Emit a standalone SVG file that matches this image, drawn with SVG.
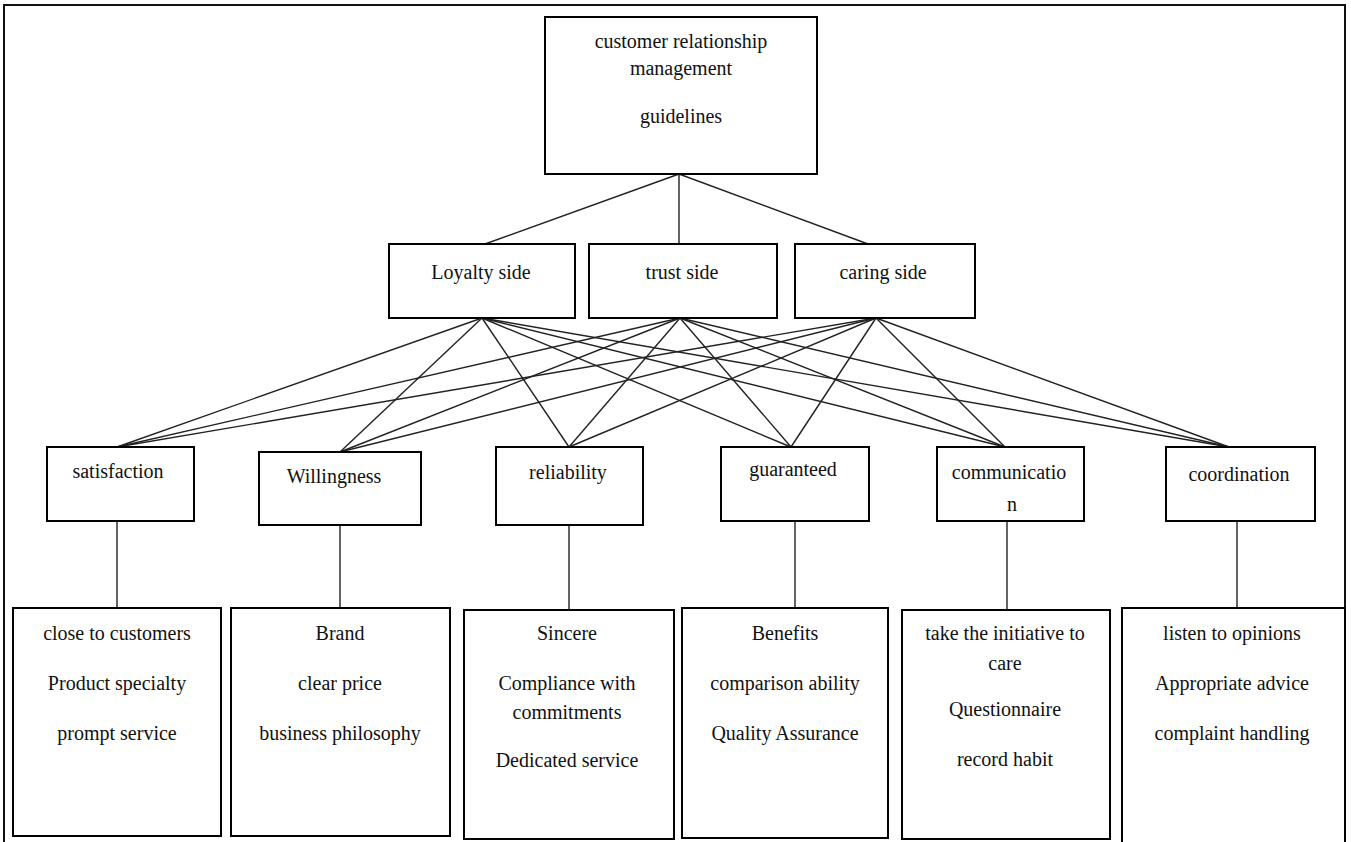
<svg xmlns="http://www.w3.org/2000/svg" width="1351" height="842" viewBox="0 0 1351 842">
<style>
.box{fill:#fff;stroke:#000;stroke-width:2}
.frame{fill:none;stroke:#111;stroke-width:2}
.t{font-family:"Liberation Serif","Times New Roman",serif;font-size:20px;fill:#111;text-anchor:middle}
.c{stroke:#222;stroke-width:1.4;fill:none}
</style>
<rect class="frame" x="4" y="5" width="1341" height="850"/>
<g id="connectors">
<line class="c" x1="679" y1="174" x2="485" y2="244"/>
<line class="c" x1="679" y1="174" x2="679" y2="244"/>
<line class="c" x1="679" y1="174" x2="868" y2="244"/>
<line class="c" x1="482" y1="318" x2="117" y2="447"/>
<line class="c" x1="482" y1="318" x2="340" y2="452"/>
<line class="c" x1="482" y1="318" x2="569" y2="447"/>
<line class="c" x1="482" y1="318" x2="791" y2="447"/>
<line class="c" x1="482" y1="318" x2="1005" y2="447"/>
<line class="c" x1="482" y1="318" x2="1229" y2="447"/>
<line class="c" x1="680" y1="318" x2="117" y2="447"/>
<line class="c" x1="680" y1="318" x2="340" y2="452"/>
<line class="c" x1="680" y1="318" x2="569" y2="447"/>
<line class="c" x1="680" y1="318" x2="791" y2="447"/>
<line class="c" x1="680" y1="318" x2="1005" y2="447"/>
<line class="c" x1="680" y1="318" x2="1229" y2="447"/>
<line class="c" x1="876" y1="318" x2="117" y2="447"/>
<line class="c" x1="876" y1="318" x2="340" y2="452"/>
<line class="c" x1="876" y1="318" x2="569" y2="447"/>
<line class="c" x1="876" y1="318" x2="791" y2="447"/>
<line class="c" x1="876" y1="318" x2="1005" y2="447"/>
<line class="c" x1="876" y1="318" x2="1229" y2="447"/>
<line class="c" x1="117" y1="521" x2="117" y2="608"/>
<line class="c" x1="340" y1="525" x2="340" y2="608"/>
<line class="c" x1="569" y1="525" x2="569" y2="610"/>
<line class="c" x1="795" y1="521" x2="795" y2="608"/>
<line class="c" x1="1007" y1="521" x2="1007" y2="610"/>
<line class="c" x1="1237" y1="521" x2="1237" y2="608"/>
</g>
<g id="n-crm">
<rect class="box" x="545" y="17" width="272" height="157"/>
<text class="t" x="681" y="48">customer relationship</text>
<text class="t" x="681" y="75">management</text>
<text class="t" x="681" y="123">guidelines</text>
</g>
<g id="n-loyalty">
<rect class="box" x="389" y="244" width="186" height="74"/>
<text class="t" x="481" y="279">Loyalty side</text>
</g>
<g id="n-trust">
<rect class="box" x="589" y="244" width="188" height="74"/>
<text class="t" x="682" y="279">trust side</text>
</g>
<g id="n-caring">
<rect class="box" x="795" y="244" width="180" height="74"/>
<text class="t" x="883" y="279">caring side</text>
</g>
<g id="n-satisfaction">
<rect class="box" x="47" y="447" width="147" height="74"/>
<text class="t" x="118" y="478">satisfaction</text>
</g>
<g id="n-willingness">
<rect class="box" x="259" y="452" width="162" height="73"/>
<text class="t" x="334" y="483">Willingness</text>
</g>
<g id="n-reliability">
<rect class="box" x="496" y="447" width="147" height="78"/>
<text class="t" x="568" y="479">reliability</text>
</g>
<g id="n-guaranteed">
<rect class="box" x="721" y="447" width="148" height="74"/>
<text class="t" x="793" y="476">guaranteed</text>
</g>
<g id="n-communication">
<rect class="box" x="937" y="447" width="147" height="74"/>
<text class="t" x="1009" y="479">communicatio</text>
<text class="t" x="1012" y="511">n</text>
</g>
<g id="n-coordination">
<rect class="box" x="1166" y="447" width="149" height="74"/>
<text class="t" x="1239" y="481">coordination</text>
</g>
<g id="d-satisfaction">
<rect class="box" x="13" y="608" width="208" height="228"/>
<text class="t" x="117" y="640">close to customers</text>
<text class="t" x="117" y="690">Product specialty</text>
<text class="t" x="117" y="740">prompt service</text>
</g>
<g id="d-willingness">
<rect class="box" x="231" y="608" width="219" height="228"/>
<text class="t" x="340" y="640">Brand</text>
<text class="t" x="340" y="690">clear price</text>
<text class="t" x="340" y="740">business philosophy</text>
</g>
<g id="d-reliability">
<rect class="box" x="464" y="610" width="210" height="229"/>
<text class="t" x="567" y="640">Sincere</text>
<text class="t" x="567" y="690">Compliance with</text>
<text class="t" x="567" y="719">commitments</text>
<text class="t" x="567" y="767">Dedicated service</text>
</g>
<g id="d-guaranteed">
<rect class="box" x="682" y="608" width="206" height="230"/>
<text class="t" x="785" y="640">Benefits</text>
<text class="t" x="785" y="690">comparison ability</text>
<text class="t" x="785" y="740">Quality Assurance</text>
</g>
<g id="d-communication">
<rect class="box" x="902" y="610" width="208" height="229"/>
<text class="t" x="1005" y="640">take the initiative to</text>
<text class="t" x="1005" y="670">care</text>
<text class="t" x="1005" y="716">Questionnaire</text>
<text class="t" x="1005" y="766">record habit</text>
</g>
<g id="d-coordination">
<rect class="box" x="1122" y="608" width="223" height="240"/>
<text class="t" x="1232" y="640">listen to opinions</text>
<text class="t" x="1232" y="690">Appropriate advice</text>
<text class="t" x="1232" y="740">complaint handling</text>
</g>
</svg>
